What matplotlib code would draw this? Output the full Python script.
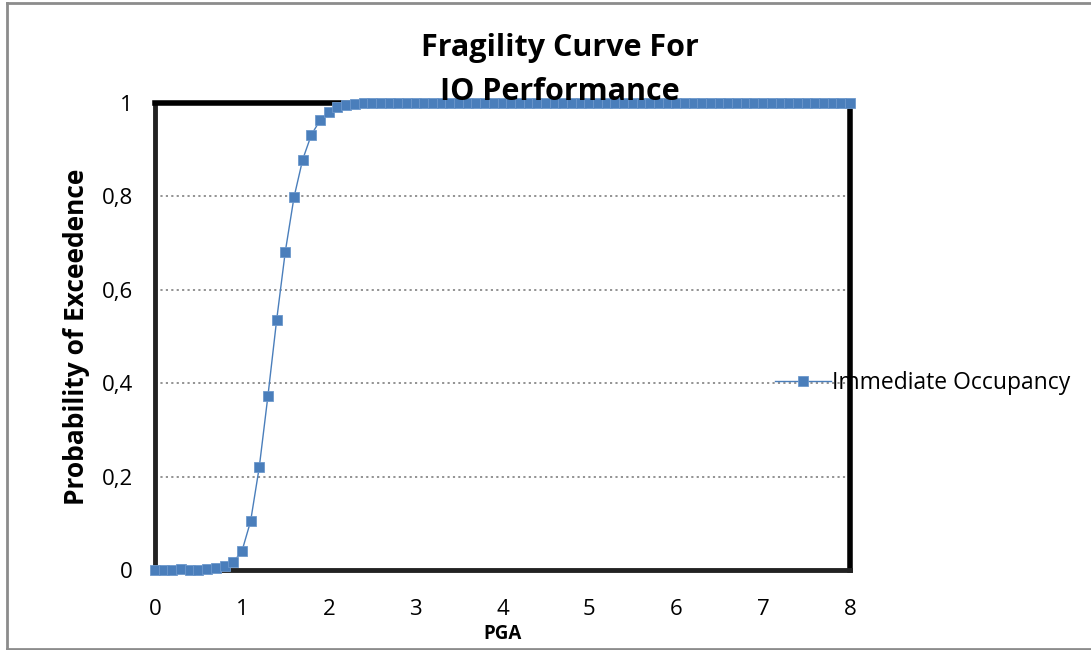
import matplotlib
matplotlib.use("Agg")
import matplotlib.pyplot as plt
from matplotlib.lines import Line2D

plt.rcParams['font.family'] = ['Open Sans', 'DejaVu Sans']

# PGA levels (g) sampled every 0.1 from 0 to 8
pga = [i / 10 for i in range(81)]

# Probability of exceedence for Immediate Occupancy
prob_io = [
    0.000, 0.000, 0.000, 0.003, 0.000, 0.000, 0.002, 0.004, 0.009, 0.017,
    0.040, 0.104, 0.220, 0.373, 0.535, 0.682, 0.798, 0.879, 0.932, 0.963,
    0.981, 0.991, 0.996, 0.998, 0.999, 1.000, 1.000, 1.000, 1.000, 1.000,
    1.000, 1.000, 1.000, 1.000, 1.000, 1.000, 1.000, 1.000, 1.000, 1.000,
    1.000, 1.000, 1.000, 1.000, 1.000, 1.000, 1.000, 1.000, 1.000, 1.000,
    1.000, 1.000, 1.000, 1.000, 1.000, 1.000, 1.000, 1.000, 1.000, 1.000,
    1.000, 1.000, 1.000, 1.000, 1.000, 1.000, 1.000, 1.000, 1.000, 1.000,
    1.000, 1.000, 1.000, 1.000, 1.000, 1.000, 1.000, 1.000, 1.000, 1.000,
    1.000,
]

x_ticks = [0, 1, 2, 3, 4, 5, 6, 7, 8]
y_ticks = [0, 0.2, 0.4, 0.6, 0.8, 1]
y_tick_labels = ["0", "0,2", "0,4", "0,6", "0,8", "1"]

W, H = 1091, 650
fig = plt.figure(figsize=(W / 100, H / 100), dpi=100)

# chart-area frame (top, left and bottom edges)
frame_kw = dict(transform=fig.transFigure, color="#8c8c8c", linewidth=2, zorder=0)
fig.add_artist(Line2D([7 / W, 1], [1 - 3 / H, 1 - 3 / H], **frame_kw))
fig.add_artist(Line2D([7 / W, 7 / W], [1 - 3 / H, 1.5 / H], **frame_kw))
fig.add_artist(Line2D([7 / W, 1], [1.5 / H, 1.5 / H], **frame_kw))

ax = fig.add_axes([155 / W, 80 / H, 695 / W, 467 / H])
ax.set_xlim(0, 8)
ax.set_ylim(0, 1)

for y in y_ticks[1:-1]:
    ax.axhline(y, color="#8a8a8a", linestyle=(0, (1.2, 1.8)), linewidth=1.3, zorder=1)

line, = ax.plot(pga, prob_io, color="#4a7ebb", linewidth=1.0, marker="s",
                markersize=6.5, markerfacecolor="#4a7ebb", markeredgecolor="#6d98cc",
                markeredgewidth=0.6, clip_on=False, zorder=4,
                label="Immediate Occupancy")

for side in ["top", "right"]:
    ax.spines[side].set_linewidth(4)
    ax.spines[side].set_color("black")
for side in ["left", "bottom"]:
    ax.spines[side].set_linewidth(3.5)
    ax.spines[side].set_color("#222222")

ax.set_xticks(x_ticks)
ax.set_xticklabels([str(v) for v in x_ticks])
ax.set_yticks(y_ticks)
ax.set_yticklabels(y_tick_labels)
ax.tick_params(axis="both", length=0, labelsize=16)
ax.tick_params(axis="x", pad=21)
ax.tick_params(axis="y", pad=16)

ax.set_xlabel("PGA", fontsize=13.5, fontweight="bold", labelpad=3)
ax.set_ylabel("Probability of Exceedence", fontsize=19, fontweight="bold", labelpad=8)

fig.text(560 / W, 1 - 70 / H, "Fragility Curve For\nIO Performance", ha="center",
         va="center", fontsize=22, fontweight="bold", linespacing=1.6, zorder=5)

leg = fig.legend(handles=[line], loc="center left",
                 bbox_to_anchor=(775 / W, 1 - 383 / H), frameon=False, fontsize=16.5,
                 handlelength=2.45, handletextpad=0.05, borderpad=0, borderaxespad=0)

fig.savefig("out.png", dpi=100)
